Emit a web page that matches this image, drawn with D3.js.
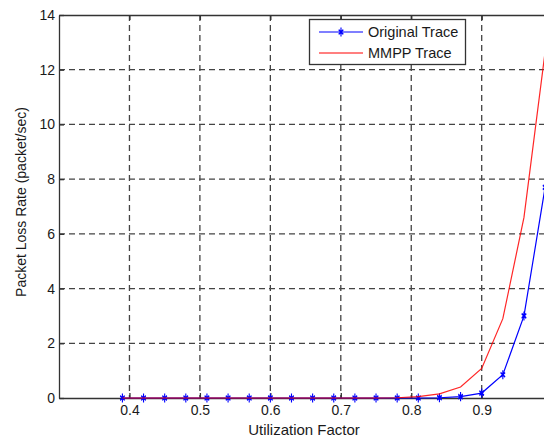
<!DOCTYPE html>
<html>
<head>
<meta charset="utf-8">
<script src="https://cdn.jsdelivr.net/npm/d3@7"></script>
<style>
  body { margin: 0; background: #fff; overflow: hidden; }
  svg { display: block; font-family: "Liberation Sans", Arial, sans-serif; }
</style>
</head>
<body>
<svg id="chart" width="544" height="438"></svg>
<script>
// utilization factor samples
var utilization = [0.39, 0.42, 0.45, 0.48, 0.51, 0.54, 0.57, 0.60, 0.63, 0.66, 0.69,
                   0.72, 0.75, 0.78, 0.81, 0.84, 0.87, 0.90, 0.93, 0.96, 0.99];
var originalTrace = [0, 0, 0, 0, 0, 0, 0, 0, 0, 0, 0,
                     0, 0, 0, 0, 0.01, 0.05, 0.18, 0.85, 3.0, 7.7];
var mmppTrace = [0, 0, 0, 0, 0, 0, 0, 0, 0, 0, 0,
                 0, 0, 0.01, 0.05, 0.15, 0.4, 1.08, 2.9, 6.6, 12.65];
var xTicks = [0.4, 0.5, 0.6, 0.7, 0.8, 0.9];
var yTicks = [0, 2, 4, 6, 8, 10, 12, 14];

var svg = d3.select("#chart");
var mLeft = 59, mTop = 15, mBottom = 398;

var x = d3.scaleLinear().domain([0.3, 1.0]).range([mLeft, mLeft + 7 * 70.45]);
var y = d3.scaleLinear().domain([0, 14]).range([mBottom, mTop]);
var mRight = x(1.0);

var axisColor = "#333";

// grid
svg.append("g")
    .selectAll("line")
    .data(xTicks)
    .enter()
    .append("line")
    .attr("x1", function (d) { return x(d); })
    .attr("x2", function (d) { return x(d); })
    .attr("y1", mTop)
    .attr("y2", mBottom)
    .attr("stroke", "#444")
    .attr("stroke-width", 1.3)
    .attr("stroke-dasharray", "6,4");

svg.append("g")
    .selectAll("line")
    .data(yTicks.filter(function (d) { return d > 0 && d < 14; }))
    .enter()
    .append("line")
    .attr("x1", mLeft)
    .attr("x2", mRight)
    .attr("y1", function (d) { return y(d); })
    .attr("y2", function (d) { return y(d); })
    .attr("stroke", "#444")
    .attr("stroke-width", 1.3)
    .attr("stroke-dasharray", "6,4");

// axes (ticks inside, matlab style)
var xAxis = svg.append("g")
    .attr("transform", "translate(0," + mBottom + ")")
    .call(d3.axisBottom(x).tickValues(xTicks).tickSize(-5).tickSizeOuter(0).tickPadding(7).tickFormat(d3.format(".1f")));
var xTop = svg.append("g")
    .attr("transform", "translate(0," + mTop + ")")
    .call(d3.axisTop(x).tickValues(xTicks).tickSize(-5).tickSizeOuter(0).tickFormat(""));
var yAxis = svg.append("g")
    .attr("transform", "translate(" + mLeft + ",0)")
    .call(d3.axisLeft(y).tickValues(yTicks).tickSize(-5).tickSizeOuter(0).tickPadding(4).tickFormat(d3.format("d")));

[xAxis, xTop, yAxis].forEach(function (a) {
    a.select(".domain").attr("stroke", axisColor).attr("stroke-width", 1.3);
    a.selectAll(".tick line").attr("stroke", axisColor).attr("stroke-width", 1.3);
    a.selectAll("text").attr("fill", "#1a1a1a").style("font-size", "14px")
        .style("font-family", "'Liberation Sans', Arial, sans-serif");
});

// lines
var line = function (vals) {
    return d3.line()
        .x(function (d, i) { return x(utilization[i]); })
        .y(function (d) { return y(d); })(vals);
};

svg.append("path")
    .attr("d", line(originalTrace))
    .attr("fill", "none")
    .attr("stroke", "#0000ff")
    .attr("stroke-width", 1.2);

// asterisk markers
var star = d3.symbol().type(d3.symbolAsterisk).size(40);
svg.append("g")
    .selectAll("path")
    .data(originalTrace)
    .enter()
    .append("path")
    .attr("d", star)
    .attr("transform", function (d, i) {
        return "translate(" + x(utilization[i]) + "," + y(d) + ") scale(0.7,1.2)";
    })
    .attr("fill", "none")
    .attr("stroke", "#0000ff")
    .attr("stroke-width", 1.6);

// red drawn on top, as in the reference
svg.append("path")
    .attr("d", line(mmppTrace))
    .attr("fill", "none")
    .attr("stroke", "#ff0000")
    .attr("stroke-opacity", 0.85)
    .attr("stroke-width", 1.2);

// legend
var lg = svg.append("g");
lg.append("rect")
    .attr("x", 309.5).attr("y", 19.5)
    .attr("width", 156).attr("height", 45)
    .attr("fill", "#fff")
    .attr("stroke", axisColor)
    .attr("stroke-width", 1.3);

var legendItems = [
    { name: "Original Trace", color: "#0000ff", marker: true },
    { name: "MMPP Trace", color: "#ff0000", marker: false }
];
legendItems.forEach(function (it, i) {
    var yy = 32 + i * 21;
    lg.append("line")
        .attr("x1", 319).attr("x2", 363)
        .attr("y1", yy).attr("y2", yy)
        .attr("stroke", it.color)
        .attr("stroke-width", 1.2);
    if (it.marker) {
        lg.append("path")
            .attr("d", star)
            .attr("transform", "translate(341," + yy + ") scale(0.7,1.2)")
            .attr("fill", "none")
            .attr("stroke", it.color)
            .attr("stroke-width", 1.6);
    }
    lg.append("text")
        .attr("x", 368).attr("y", yy + 5)
        .attr("fill", "#1a1a1a")
        .style("font-size", "14.5px")
        .text(it.name);
});

// axis labels
svg.append("text")
    .attr("x", 304).attr("y", 435)
    .attr("text-anchor", "middle")
    .attr("fill", "#1a1a1a")
    .style("font-size", "15px")
    .text("Utilization Factor");

svg.append("text")
    .attr("transform", "translate(26,202) rotate(-90)")
    .attr("text-anchor", "middle")
    .attr("fill", "#1a1a1a")
    .style("font-size", "14px")
    .text("Packet Loss Rate (packet/sec)");
</script>
</body>
</html>
